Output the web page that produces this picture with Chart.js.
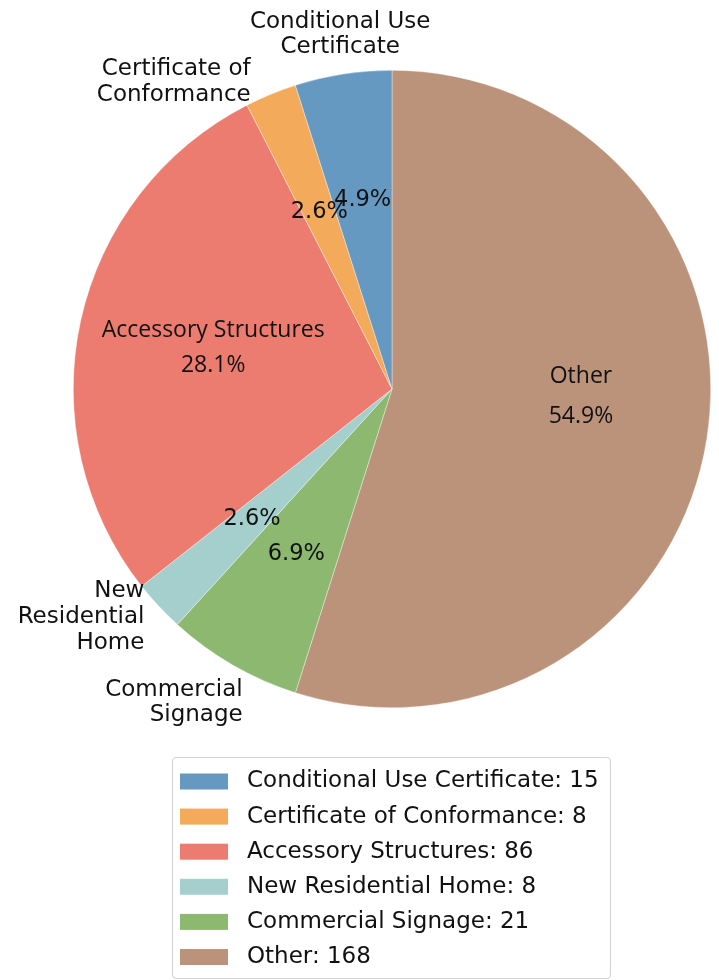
<!DOCTYPE html>
<html>
<head>
<meta charset="utf-8">
<script src="https://cdn.jsdelivr.net/npm/chart.js@4.4.1/dist/chart.umd.min.js"></script>
<style>
  html, body { margin: 0; padding: 0; background: #ffffff; }
  #wrap { width: 719px; height: 980px; position: relative; }
</style>
</head>
<body>
<div id="wrap"><canvas id="pieChart"></canvas></div>
<script>
// data (matplotlib order, counter-clockwise from 12 o'clock)
const categorias = ['Conditional Use Certificate', 'Certificate of Conformance', 'Accessory Structures',
                    'New Residential Home', 'Commercial Signage', 'Other'];
const cantidades = [15, 8, 86, 8, 21, 168];
const colores = ['#6699c2', '#f4aa5b', '#eb7c6f', '#a4cfcc', '#8cb96f', '#bb937b'];
// labels drawn outside the pie (null = name goes inside with the percentage)
const etiquetasFuera = [['Conditional Use', 'Certificate'], ['Certificate of', 'Conformance'], null,
                        ['New', 'Residential', 'Home'], ['Commercial', 'Signage'], null];

const total = cantidades.reduce((a, b) => a + b, 0);

// placement tweaks for the text (pixels)
const ajusteFuera = [[2, -8, 'center'], [-8, 17, 'right'], null, [9, -11, 'right'], [26, 10, 'right'], null];
const ajustePct = [[0, 0], [0, 0], [8, 17], [0, 0], [0, 0], [0, -2]];
const ajusteNombre = [0, 0, -35, 0, 0, -40];

// Chart.js goes clockwise, so reverse to get the counter-clockwise look
const idx = categorias.map((c, i) => i).reverse();

const etiquetasPlugin = {
    id: 'etiquetas',
    afterDatasetsDraw(chart) {
        const ctx = chart.ctx;
        const meta = chart.getDatasetMeta(0);
        ctx.save();
        ctx.fillStyle = '#111';
        ctx.textBaseline = 'middle';
        meta.data.forEach((arc, k) => {
            const i = idx[k];
            const p = arc.getProps(['x', 'y', 'startAngle', 'endAngle', 'outerRadius'], true);
            const mid = (p.startAngle + p.endAngle) / 2;
            const R = p.outerRadius;
            const px = p.x + Math.cos(mid) * R * 0.6 + ajustePct[i][0];
            const py = p.y + Math.sin(mid) * R * 0.6 + ajustePct[i][1];
            const pct = (cantidades[i] / total * 100).toFixed(1) + '%';
            ctx.textAlign = 'center';
            if (etiquetasFuera[i]) {
                ctx.font = '22.5px "DejaVu Sans"';
                ctx.fillText(pct, px, py);
                const lines = etiquetasFuera[i];
                const aj = ajusteFuera[i];
                const ox = p.x + Math.cos(mid) * R * 1.1 + aj[0];
                const oy = p.y + Math.sin(mid) * R * 1.1 + aj[1];
                ctx.textAlign = aj[2];
                ctx.font = '23px "DejaVu Sans"';
                const lh = 25.8;
                lines.forEach((l, j) => {
                    ctx.fillText(l, ox, oy + (j - (lines.length - 1) / 2) * lh);
                });
            } else {
                ctx.font = '23px "Open Sans"';
                ctx.fillText(pct, px, py);
                ctx.fillText(categorias[i], px, py + ajusteNombre[i]);
            }
        });
        ctx.restore();
    }
};

const leyendaPlugin = {
    id: 'leyenda',
    afterDraw(chart) {
        const ctx = chart.ctx;
        const x0 = 172, y0 = 757, w = 438, h = 221;
        ctx.save();
        ctx.beginPath();
        ctx.roundRect(x0 + 0.5, y0 + 0.5, w, h, 4);
        ctx.fillStyle = 'rgba(255,255,255,0.8)';
        ctx.fill();
        ctx.strokeStyle = '#d4d4d4';
        ctx.lineWidth = 1.2;
        ctx.stroke();
        ctx.font = '23px "DejaVu Sans"';
        ctx.textBaseline = 'middle';
        ctx.textAlign = 'left';
        categorias.forEach((c, i) => {
            const cy = y0 + 24.5 + i * 35.1;
            ctx.fillStyle = colores[i];
            ctx.fillRect(180, cy - 8, 48, 16);
            ctx.fillStyle = '#111';
            ctx.fillText(c + ': ' + cantidades[i], 247, cy);
        });
        ctx.restore();
    }
};

const pieChart = () => {
    const data = {
        labels: idx.map(i => categorias[i]),
        datasets: [{
            data: idx.map(i => cantidades[i]),
            backgroundColor: idx.map(i => colores[i]),
            borderWidth: 0.6,
            borderColor: 'rgba(255,255,255,0.6)'
        }]
    };
    const config = {
        type: 'pie',
        data,
        options: {
            responsive: true,
            maintainAspectRatio: false,
            animation: false,
            layout: { padding: { left: 73, right: 8, top: 70, bottom: 272 } },
            plugins: {
                legend: { display: false },
                tooltip: { enabled: false }
            }
        },
        plugins: [etiquetasPlugin, leyendaPlugin]
    };
    new Chart(document.getElementById('pieChart'), config);
};

document.addEventListener('DOMContentLoaded', () => {
    pieChart();
});
</script>
</body>
</html>
